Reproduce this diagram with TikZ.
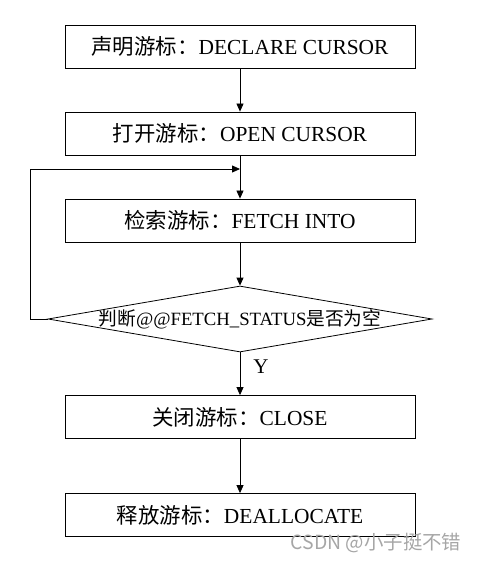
\documentclass[tikz,border=0pt]{standalone}
\usepackage{fontspec}
\setmainfont{Liberation Serif}
\newfontfamily\cjk{Noto Sans CJK SC}
\usetikzlibrary{shapes.geometric,arrows.meta,positioning}

\tikzset{
  stepbox/.style={draw, line width=0.8bp, minimum width=350bp, minimum height=43bp, inner sep=0pt, font=\fontsize{21.5}{24}\selectfont},
  decision/.style={diamond, draw, line width=0.8bp, aspect=5.8, inner sep=-3bp, minimum width=384bp, minimum height=66bp, font=\fontsize{18.8}{21}\selectfont},
  arr/.style={line width=0.8bp, -{Triangle[length=8bp,width=7bp]}}
}

\begin{document}
\begin{tikzpicture}[x=1bp, y=-1bp]
\useasboundingbox (0,0) rectangle (478,561);
\node[stepbox] (declare) at (240,46.5) {{\cjk 声明游标：}DECLARE CURSOR};
\node[stepbox] (open) at (240,133.5) {{\cjk 打开游标：}OPEN CURSOR};
\node[stepbox] (fetch) at (240,220.5) {{\cjk 检索游标：}FETCH INTO};
\node[decision] (chk) at (240,319) {{\cjk 判断}@@FETCH\_STATUS{\cjk 是否为空}};
\node[stepbox] (close) at (240,417) {{\cjk 关闭游标：}CLOSE};
\node[stepbox] (free) at (240,515) {{\cjk 释放游标：}DEALLOCATE};
\coordinate (join) at (240,169);
\node[font=\fontsize{21}{24}\selectfont] (yes) at (261,367) {Y};
\node[text=black!35, font=\cjk\fontsize{19.5}{22}\selectfont] (mark) at (376,543) {CSDN @小子挺不错};

\draw[arr] (declare) -- (open);
\draw[arr] (open) -- (fetch);
\draw[arr] (fetch) -- (chk);
\draw[arr] (chk) -- (close);
\draw[arr] (close) -- (free);
% loop back
\draw[arr] (chk.west) -- ++(-17,0) |- (join);
\end{tikzpicture}
\end{document}
